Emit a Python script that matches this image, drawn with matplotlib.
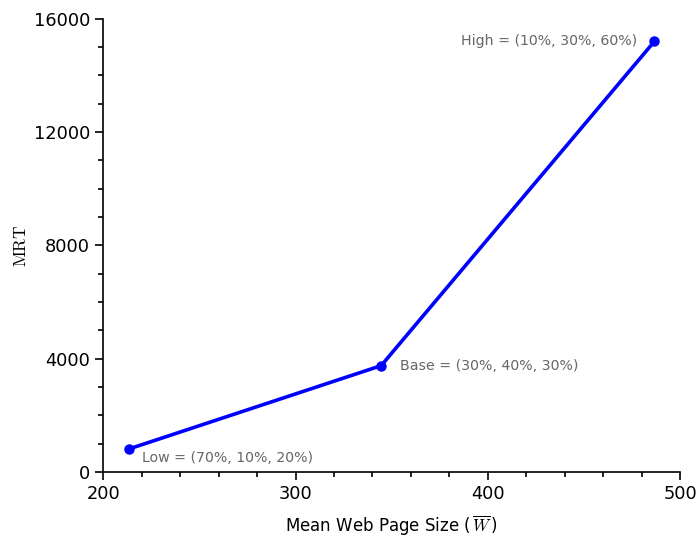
import matplotlib
matplotlib.use("Agg")
import matplotlib.pyplot as plt
from matplotlib.ticker import MultipleLocator

plt.rcParams["mathtext.fontset"] = "cm"

# data
page_size = [213.5, 344.5, 486.5]
mrt = [810, 3750, 15200]
labels = ["Low = (70%, 10%, 20%)", "Base = (30%, 40%, 30%)", "High = (10%, 30%, 60%)"]
x_ticks = [200, 300, 400, 500]
y_ticks = [0, 4000, 8000, 12000, 16000]

fig = plt.figure(figsize=(6.97, 5.38), dpi=100)
ax = fig.add_axes([0.148, 0.123, 0.828, 0.842])

ax.plot(page_size, mrt, color="blue", linewidth=2.6, marker="o", markersize=6.5)

offsets = [(13, -9, "left"), (19, 0, "left"), (-17, 0, "right")]
for x, y, text, (dx, dy, ha) in zip(page_size, mrt, labels, offsets):
    ax.annotate(text, (x, y), xytext=(dx, dy), textcoords="offset pixels",
                ha=ha, va="center", fontsize=10.2, color="#666666")

ax.set_xlim(200, 500)
ax.set_ylim(0, 16000)
ax.set_xticks(x_ticks)
ax.set_yticks(y_ticks)
ax.xaxis.set_minor_locator(MultipleLocator(20))
ax.yaxis.set_minor_locator(MultipleLocator(1000))
ax.tick_params(which="major", length=6, width=1.2, labelsize=12.8)
ax.tick_params(which="minor", length=3.5, width=1.2)

for side in ["top", "right"]:
    ax.spines[side].set_visible(False)
for side in ["left", "bottom"]:
    ax.spines[side].set_linewidth(1.2)

ax.set_xlabel(r"Mean Web Page Size ($\,\overline{W}\,$)", fontsize=12, labelpad=8)
ax.set_ylabel(r"$\mathrm{MRT}$", fontsize=12.5)
ax.yaxis.set_label_coords(-0.127, 0.5)

fig.savefig("out.png", dpi=100)
